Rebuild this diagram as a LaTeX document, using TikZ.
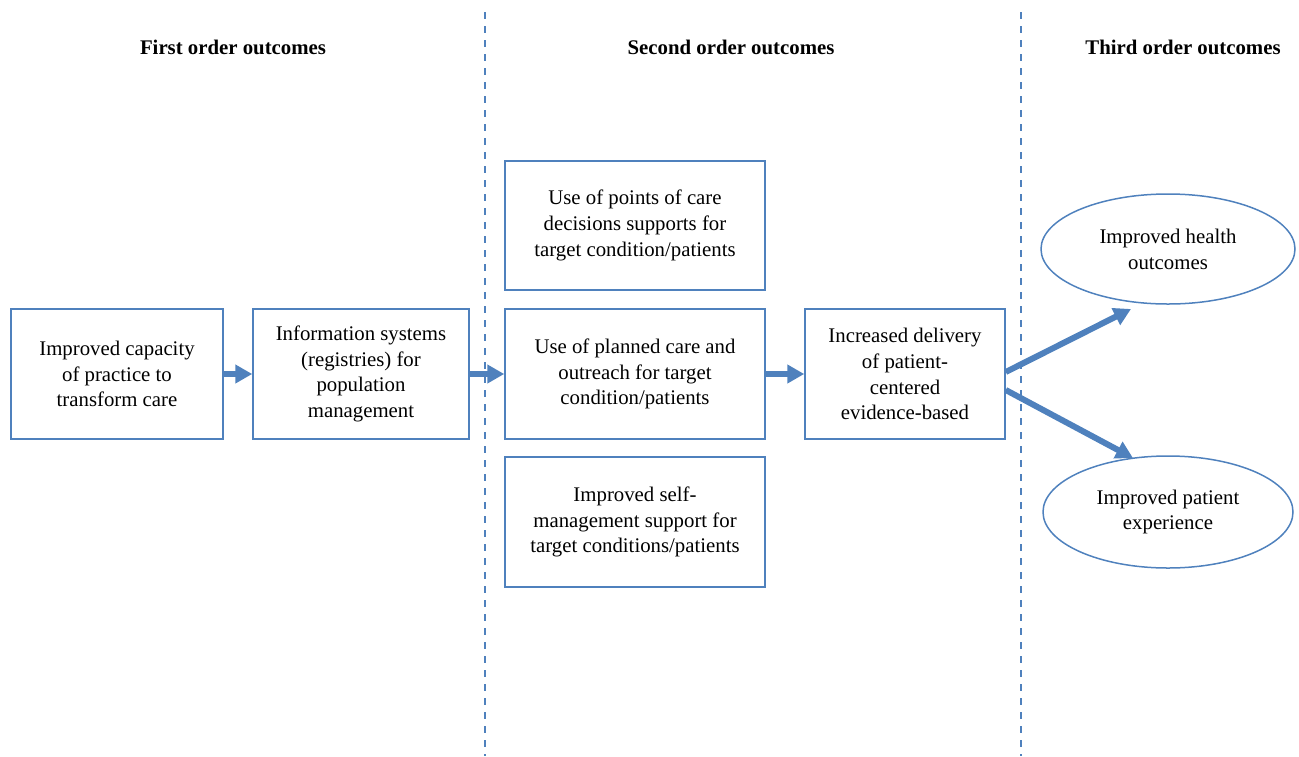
\documentclass[tikz,border=0pt]{standalone}
\usepackage{fontspec}
\setmainfont{Liberation Serif}
\usetikzlibrary{arrows.meta,shapes.geometric}
\definecolor{linkblue}{HTML}{4F81BD}
\tikzset{
  box/.style={draw=linkblue, line width=1.5pt, rectangle, align=center,
    font=\fontsize{20.8}{25.8}\selectfont, inner sep=0pt},
  oval/.style={draw=linkblue, line width=1.5pt, ellipse, align=center,
    font=\fontsize{20.8}{25.8}\selectfont, inner sep=0pt},
  head/.style={font=\fontsize{20.8}{24}\selectfont\bfseries},
  flow/.style={draw=linkblue, line width=6pt, -{Triangle[length=17pt,width=18pt]}},
  divider/.style={draw=linkblue, line width=1.6pt, dash pattern=on 7pt off 7pt}
}
\begin{document}
\begin{tikzpicture}[x=1pt,y=-1pt]
  \useasboundingbox (0,0) rectangle (1299,756);

  % column dividers
  \coordinate (d1t) at (485,12);
  \coordinate (d1b) at (485,756);
  \coordinate (d2t) at (1021,12);
  \coordinate (d2b) at (1021,756);
  \draw[divider] (d1t) -- (d1b);
  \draw[divider] (d2t) -- (d2b);

  % column headings
  \node[head] (h1) at (233,47) {First order outcomes};
  \node[head] (h2) at (731,47) {Second order outcomes};
  \node[head] (h3) at (1183,47) {Third order outcomes};

  % first order
  \node[box, minimum width=212pt, minimum height=130pt] (cap) at (117,374)
    {Improved capacity\\of practice to\\transform care};
  \node[box, minimum width=216pt, minimum height=130pt] (info) at (361,374)
    {Information systems\\(registries) for\\population\\management};

  % second order
  \node[box, minimum width=260pt, minimum height=129pt] (dec) at (635,225.5)
    {Use of points of care\\decisions supports for\\target condition/patients};
  \node[box, minimum width=260pt, minimum height=130pt] (plan) at (635,374)
    {Use of planned care and\\outreach for target\\condition/patients};
  \node[box, minimum width=260pt, minimum height=130pt] (self) at (635,522)
    {Improved self-\\management support for\\target conditions/patients};
  \node[box, minimum width=200pt, minimum height=130pt] (deliv) at (905,374)
    {Increased delivery\\of patient-\\centered\\evidence-based};

  % third order
  \node[oval, minimum width=254pt, minimum height=110pt] (health) at (1168,249)
    {Improved health\\outcomes};
  \node[oval, minimum width=250pt, minimum height=112pt] (pexp) at (1168,512)
    {Improved patient\\experience};

  % flows
  \draw[flow] (cap.east) -- (info.west);
  \draw[flow] (info.east) -- (plan.west);
  \draw[flow] (plan.east) -- (deliv.west);
  \coordinate (hend) at (1131,309);
  \coordinate (pend) at (1133,458);
  \draw[flow] ([yshift=2pt]deliv.east) -- (hend);
  \draw[flow] ([yshift=-16pt]deliv.east) -- (pend);
\end{tikzpicture}
\end{document}
